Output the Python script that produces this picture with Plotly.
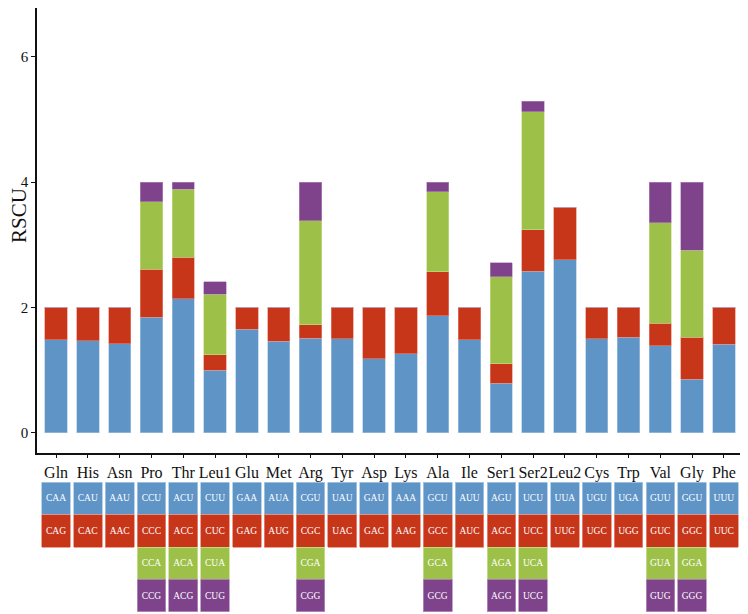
import plotly.graph_objects as go

amino = ["Gln", "His", "Asn", "Pro", "Thr", "Leu1", "Glu", "Met", "Arg", "Tyr", "Asp",
         "Lys", "Ala", "Ile", "Ser1", "Ser2", "Leu2", "Cys", "Trp", "Val", "Gly", "Phe"]

# RSCU per codon position (None = codon absent)
rscu1 = [1.48, 1.47, 1.42, 1.84, 2.14, 1.00, 1.65, 1.46, 1.51, 1.50, 1.18,
         1.26, 1.87, 1.48, 0.79, 2.58, 2.76, 1.50, 1.52, 1.39, 0.85, 1.41]
rscu2 = [0.52, 0.53, 0.58, 0.77, 0.66, 0.24, 0.35, 0.54, 0.21, 0.50, 0.82,
         0.74, 0.70, 0.52, 0.31, 0.66, 0.84, 0.50, 0.48, 0.36, 0.67, 0.59]
rscu3 = [None, None, None, 1.08, 1.09, 0.97, None, None, 1.66, None, None,
         None, 1.28, None, 1.39, 1.88, None, None, None, 1.60, 1.39, None]
rscu4 = [None, None, None, 0.31, 0.11, 0.20, None, None, 0.62, None, None,
         None, 0.15, None, 0.22, 0.17, None, None, None, 0.65, 1.09, None]

codon1 = ["CAA", "CAU", "AAU", "CCU", "ACU", "CUU", "GAA", "AUA", "CGU", "UAU", "GAU",
          "AAA", "GCU", "AUU", "AGU", "UCU", "UUA", "UGU", "UGA", "GUU", "GGU", "UUU"]
codon2 = ["CAG", "CAC", "AAC", "CCC", "ACC", "CUC", "GAG", "AUG", "CGC", "UAC", "GAC",
          "AAG", "GCC", "AUC", "AGC", "UCC", "UUG", "UGC", "UGG", "GUC", "GGC", "UUC"]
codon3 = [None, None, None, "CCA", "ACA", "CUA", None, None, "CGA", None, None,
          None, "GCA", None, "AGA", "UCA", None, None, None, "GUA", "GGA", None]
codon4 = [None, None, None, "CCG", "ACG", "CUG", None, None, "CGG", None, None,
          None, "GCG", None, "AGG", "UCG", None, None, None, "GUG", "GGG", None]

colors = ["#5f94c7", "#c8361a", "#9dc148", "#7e438b"]
edge = ["#a9c7e6", "#e8897a", "#c8e08e", "#b590c0"]

fig = go.Figure()
series = [rscu1, rscu2, rscu3, rscu4]
codons = [codon1, codon2, codon3, codon4]

for i, vals in enumerate(series):
    fig.add_trace(go.Bar(
        x=amino, y=[v if v is not None else 0 for v in vals],
        marker=dict(color=colors[i], line=dict(color=edge[i], width=0.6)),
        width=0.7, xaxis="x", yaxis="y", showlegend=False, hoverinfo="skip"))

# codon table as stacked bars on a second axis
for i, cods in enumerate(codons):
    xs = [a for a, c in zip(amino, cods) if c is not None]
    ts = [c for c in cods if c is not None]
    fig.add_trace(go.Bar(
        x=xs, y=[1] * len(xs), base=[i] * len(xs),
        text=ts, textposition="inside", insidetextanchor="middle",
        textfont=dict(family="Liberation Serif", size=9.5, color="white"),
        textangle=0, constraintext="none",
        marker=dict(color=colors[i], line=dict(color=edge[i], width=0.8)),
        width=0.9, xaxis="x2", yaxis="y2", showlegend=False, hoverinfo="skip"))

# page body adds an 8px offset; the figure is sized to compensate
W, H = 740, 606
fig.update_layout(
    width=W, height=H,
    margin=dict(l=29, r=5, t=0, b=0),
    barmode="stack",
    plot_bgcolor="white", paper_bgcolor="white",
    font=dict(family="Liberation Serif", color="#111111"),
    uniformtext=dict(minsize=8, mode="show"),
    xaxis=dict(domain=[0, 1], range=[-0.6, 21.6],
               anchor="y", showline=True, linecolor="#111111", linewidth=1.6,
               ticks="outside", ticklen=4, tickwidth=1.2, tickcolor="#111111",
               tickangle=0,
               tickfont=dict(family="Liberation Serif", size=16, color="#111111"),
               showgrid=False, zeroline=False),
    yaxis=dict(domain=[0.2662, 1], range=[-0.32, 6.78], anchor="x",
               showline=True, linecolor="#111111", linewidth=1.6,
               ticks="outside", ticklen=4, tickwidth=1.2, tickcolor="#111111",
               tickvals=[0, 2, 4, 6],
               tickfont=dict(family="Liberation Serif", size=15, color="#111111"),
               showgrid=False, zeroline=False),
    xaxis2=dict(domain=[0, 1], range=[-0.6, 21.6], anchor="y2", visible=False),
    yaxis2=dict(domain=[0.0038, 0.2173], range=[4, 0], anchor="x2", visible=False),
    annotations=[dict(text="RSCU", textangle=-90, xref="paper", yref="paper",
                      x=(19 - 37) / 706, y=(614 - 216) / 606,
                      xanchor="center", yanchor="middle", showarrow=False,
                      font=dict(family="Liberation Serif", size=21, color="#111111"))],
)

fig.write_html("out.html")
